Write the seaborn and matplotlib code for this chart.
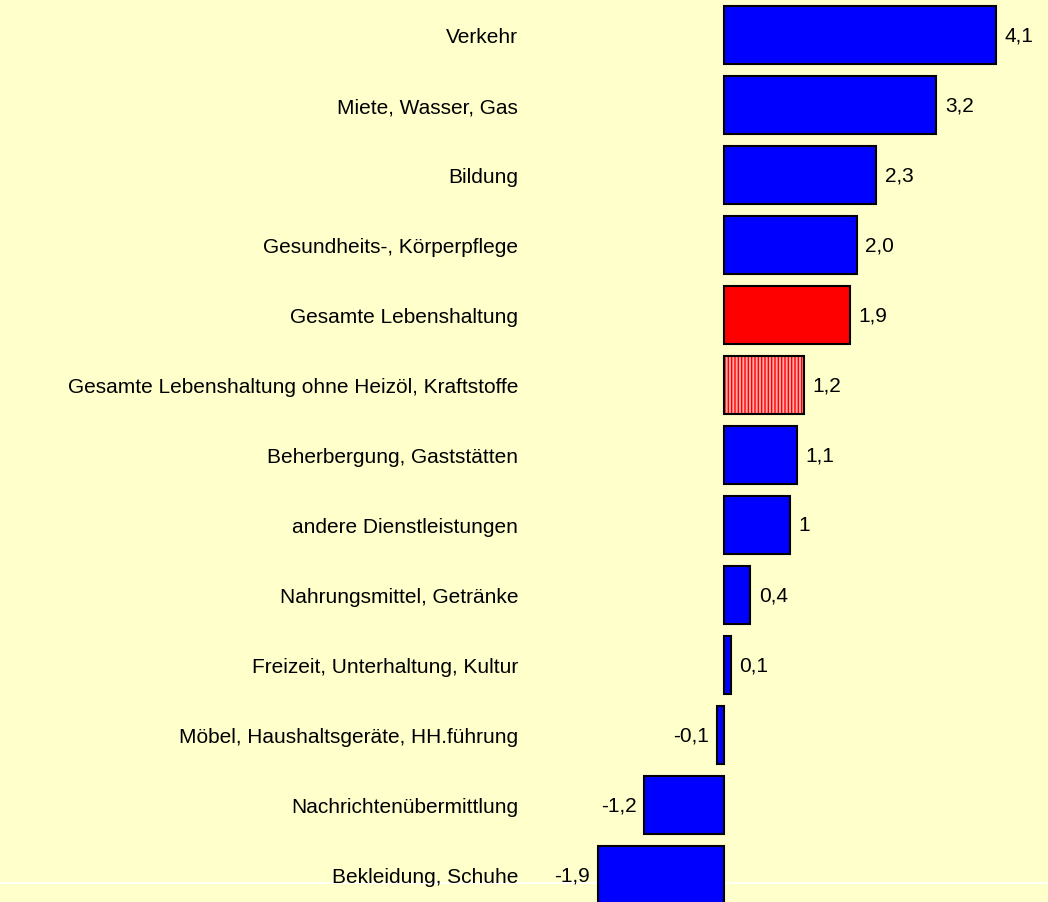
import matplotlib
matplotlib.use('Agg')
import matplotlib.pyplot as plt
import seaborn as sns
import pandas as pd

# ── data ─────────────────────────────────────────────
categories = ['Verkehr', 'Miete, Wasser, Gas', 'Bildung', 'Gesundheits-, Körperpflege',
              'Gesamte Lebenshaltung', 'Gesamte Lebenshaltung ohne Heizöl, Kraftstoffe',
              'Beherbergung, Gaststätten', 'andere Dienstleistungen',
              'Nahrungsmittel, Getränke', 'Freizeit, Unterhaltung, Kultur',
              'Möbel, Haushaltsgeräte, HH.führung', 'Nachrichtenübermittlung',
              'Bekleidung, Schuhe']
values = [4.1, 3.2, 2.3, 2.0, 1.9, 1.2, 1.1, 1.0, 0.4, 0.1, -0.1, -1.2, -1.9]
value_labels = ['4,1', '3,2', '2,3', '2,0', '1,9', '1,2', '1,1', '1', '0,4', '0,1',
                '-0,1', '-1,2', '-1,9']
bar_colors = ['#0000FF'] * 4 + ['#FF0000', '#FFA8A8'] + ['#0000FF'] * 7
hatched = 'Gesamte Lebenshaltung ohne Heizöl, Kraftstoffe'

df = pd.DataFrame({'cat': categories, 'val': values})
BG = '#FFFFCC'
FS = 15

sns.set_theme(style='white')
plt.rcParams['font.family'] = ['Liberation Sans', 'DejaVu Sans']

fig = plt.figure(figsize=(10.48, 9.03), dpi=100, facecolor=BG)
# white baseline line across whole figure (behind the transparent axes)
fig.add_artist(plt.Line2D([0, 1], [(903 - 884) / 903] * 2, color='white', lw=1.2,
                          transform=fig.transFigure, zorder=0))

ax = fig.add_axes([525/1048, 0, 1 - 525/1048, 1])
ax.patch.set_alpha(0)

sns.barplot(data=df, x='val', y='cat', hue='cat', palette=bar_colors, legend=False,
            orient='h', width=0.82, edgecolor='black', linewidth=1.5, saturation=1,
            ax=ax, zorder=3)

# striped bar: red vertical hatch, then black outline on top
hi = categories.index(hatched)
p = ax.patches[hi]
p.set_edgecolor('#FF0000'); p.set_hatch('|||||'); p.set_linewidth(0)
ax.barh(hi, values[hi], height=0.82, fill=False, edgecolor='black', linewidth=1.5, zorder=4)

# value labels
for i, (v, lab) in enumerate(zip(values, value_labels)):
    off = 0.13 if v >= 0 else -0.12
    ax.text(v + off, i, lab, ha='left' if v >= 0 else 'right', va='center',
            fontsize=FS, color='black', zorder=5)

ax.set_xlim(-3.0, (1048 - 724) / 66.3)
ax.set_ylim((903 - 36) / 70, -36 / 70)
ax.set_xlabel(''); ax.set_ylabel('')
ax.set_xticks([])
ax.tick_params(axis='y', length=0, pad=5, labelsize=FS, labelcolor='black')
for s in ax.spines.values():
    s.set_visible(False)

fig.savefig('out.png', dpi=100, facecolor=BG)
